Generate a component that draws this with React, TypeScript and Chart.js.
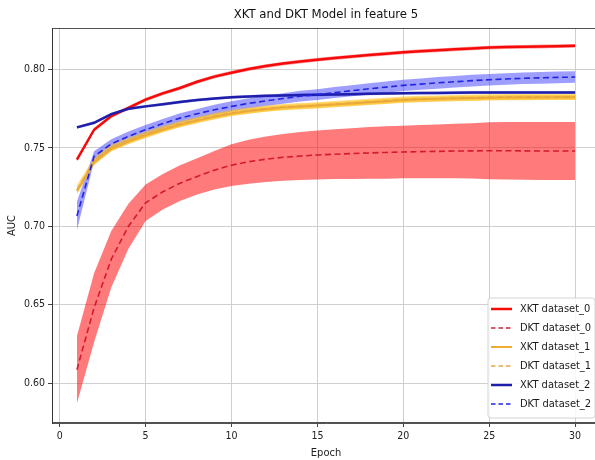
import React, { useEffect, useRef } from "react";
import { Chart, registerables } from "chart.js";

Chart.register(...registerables);

const TITLE = "XKT and DKT Model in feature 5";
const X_LABEL = "Epoch";
const Y_LABEL = "AUC";
const X_TICKS = [0, 5, 10, 15, 20, 25, 30];
const Y_TICKS = [0.6, 0.65, 0.7, 0.75, 0.8];

const EPOCHS = [1, 2, 3, 4, 5, 6, 7, 8, 9, 10, 11, 12, 13, 14, 15, 16, 17, 18, 19, 20, 21, 22, 23, 24, 25, 26, 27, 28, 29, 30];

const XKT0 = [0.7425, 0.7616, 0.7703, 0.7755, 0.7808, 0.7848, 0.7882, 0.7922, 0.7955, 0.798, 0.8003, 0.8022, 0.8038, 0.8051, 0.8063, 0.8073, 0.8083, 0.8092, 0.8101, 0.811, 0.8117, 0.8123, 0.8129, 0.8135, 0.814, 0.8143, 0.8145, 0.8147, 0.8149, 0.8151];
const XKT0_STD = [0.0012, 0.0012, 0.0012, 0.0012, 0.0012, 0.0012, 0.0012, 0.0012, 0.0012, 0.0012, 0.0012, 0.0012, 0.0012, 0.0012, 0.0012, 0.0012, 0.0012, 0.0012, 0.0012, 0.0012, 0.0012, 0.0012, 0.0012, 0.0012, 0.0012, 0.0012, 0.0012, 0.0012, 0.0012, 0.0012];
const DKT0 = [0.6085, 0.648, 0.679, 0.7, 0.715, 0.722, 0.7275, 0.7318, 0.7358, 0.739, 0.7412, 0.7428, 0.744, 0.7448, 0.7455, 0.746, 0.7464, 0.7468, 0.7471, 0.7474, 0.7476, 0.7478, 0.748, 0.7481, 0.7482, 0.7482, 0.7481, 0.748, 0.748, 0.748];
const DKT0_STD = [0.0215, 0.022, 0.018, 0.0143, 0.0116, 0.0113, 0.0114, 0.0116, 0.0123, 0.0133, 0.014, 0.0145, 0.0149, 0.0153, 0.0156, 0.0159, 0.0162, 0.0165, 0.0167, 0.0168, 0.017, 0.0172, 0.0174, 0.0176, 0.0182, 0.0183, 0.0184, 0.0185, 0.0185, 0.0185];

const XKT1 = [0.7225, 0.7408, 0.7494, 0.754, 0.758, 0.7616, 0.7648, 0.7675, 0.7699, 0.772, 0.7735, 0.7747, 0.7757, 0.7764, 0.777, 0.7777, 0.7784, 0.7791, 0.7798, 0.7805, 0.781, 0.7813, 0.7816, 0.7818, 0.782, 0.7821, 0.7822, 0.7822, 0.7823, 0.7823];
const XKT1_STD = [0.0015, 0.0015, 0.0015, 0.0015, 0.0015, 0.0015, 0.0015, 0.0015, 0.0015, 0.0015, 0.0015, 0.0015, 0.0015, 0.0015, 0.0015, 0.0015, 0.0015, 0.0015, 0.0015, 0.0015, 0.0015, 0.0015, 0.0015, 0.0015, 0.0015, 0.0015, 0.0015, 0.0015, 0.0015, 0.0015];
const DKT1 = [0.7233, 0.7415, 0.75, 0.7545, 0.7584, 0.762, 0.7652, 0.7678, 0.7702, 0.7723, 0.7738, 0.775, 0.776, 0.7766, 0.7772, 0.7779, 0.7786, 0.7793, 0.78, 0.7808, 0.7812, 0.7815, 0.7818, 0.782, 0.7823, 0.7824, 0.7824, 0.7825, 0.7825, 0.7825];
const DKT1_STD = [0.003, 0.0024, 0.0021, 0.002, 0.002, 0.002, 0.002, 0.002, 0.002, 0.002, 0.002, 0.002, 0.002, 0.002, 0.002, 0.002, 0.002, 0.002, 0.002, 0.002, 0.002, 0.002, 0.002, 0.002, 0.002, 0.002, 0.002, 0.002, 0.002, 0.002];

const XKT2 = [0.7631, 0.766, 0.7716, 0.775, 0.7765, 0.7778, 0.7793, 0.7805, 0.7815, 0.7823, 0.7828, 0.7832, 0.7835, 0.7837, 0.7839, 0.7841, 0.7843, 0.7845, 0.7847, 0.7849, 0.785, 0.7851, 0.7852, 0.7853, 0.7853, 0.7854, 0.7854, 0.7854, 0.7854, 0.7854];
const XKT2_STD = [0.0009, 0.0009, 0.0009, 0.0009, 0.0009, 0.0009, 0.0009, 0.0009, 0.0009, 0.0009, 0.0009, 0.0009, 0.0009, 0.0009, 0.0009, 0.0009, 0.0009, 0.0009, 0.0009, 0.0009, 0.0009, 0.0009, 0.0009, 0.0009, 0.0009, 0.0009, 0.0009, 0.0009, 0.0009, 0.0009];
const DKT2 = [0.7066, 0.7446, 0.7525, 0.7574, 0.7616, 0.7655, 0.769, 0.7718, 0.7743, 0.7765, 0.7784, 0.78, 0.7815, 0.783, 0.784, 0.7853, 0.7865, 0.7877, 0.7888, 0.7899, 0.7907, 0.7915, 0.7922, 0.7929, 0.7935, 0.794, 0.7944, 0.7947, 0.795, 0.7952];
const DKT2_STD = [0.009, 0.0032, 0.003, 0.003, 0.003, 0.003, 0.0031, 0.0031, 0.0032, 0.0032, 0.0033, 0.0033, 0.0034, 0.0034, 0.0035, 0.0035, 0.0035, 0.0036, 0.0036, 0.0036, 0.0036, 0.0037, 0.0037, 0.0037, 0.0037, 0.0037, 0.0037, 0.0037, 0.0037, 0.0037];

const FONT = "'DejaVu Sans Condensed', 'DejaVu Sans', sans-serif";

type Series = {
  label: string;
  mean: number[];
  std: number[];
  color: string;
  band: string;
  dashed: boolean;
  width: number;
};

const SERIES: Series[] = [
  { label: "XKT dataset_0", mean: XKT0, std: XKT0_STD, color: "rgb(245,10,10)", band: "rgba(255,0,0,0.35)", dashed: false, width: 2.5 },
  { label: "DKT dataset_0", mean: DKT0, std: DKT0_STD, color: "rgba(205,15,40,0.9)", band: "rgba(255,0,0,0.52)", dashed: true, width: 1.6 },
  { label: "XKT dataset_1", mean: XKT1, std: XKT1_STD, color: "rgb(238,172,50)", band: "rgba(255,185,20,0.5)", dashed: false, width: 2 },
  { label: "DKT dataset_1", mean: DKT1, std: DKT1_STD, color: "rgb(228,168,70)", band: "rgba(255,190,20,0.55)", dashed: true, width: 1.6 },
  { label: "XKT dataset_2", mean: XKT2, std: XKT2_STD, color: "rgb(30,30,170)", band: "rgba(40,40,200,0.35)", dashed: false, width: 2.5 },
  { label: "DKT dataset_2", mean: DKT2, std: DKT2_STD, color: "rgb(35,35,230)", band: "rgba(40,40,255,0.45)", dashed: true, width: 1.6 },
];

const DASH = [6, 3.5];

function buildDatasets() {
  const bands: any[] = [];
  const lines: any[] = [];
  SERIES.forEach((s) => {
    bands.push({
      label: "",
      data: EPOCHS.map((e, i) => ({ x: e, y: s.mean[i] + s.std[i] })),
      borderWidth: 0,
      pointRadius: 0,
      fill: false,
      tension: 0,
    });
    bands.push({
      label: "",
      data: EPOCHS.map((e, i) => ({ x: e, y: s.mean[i] - s.std[i] })),
      borderWidth: 0,
      pointRadius: 0,
      backgroundColor: s.band,
      fill: "-1",
      tension: 0,
    });
  });
  SERIES.forEach((s) => {
    lines.push({
      label: s.label,
      showInLegend: true,
      data: EPOCHS.map((e, i) => ({ x: e, y: s.mean[i] })),
      borderColor: s.color,
      borderWidth: s.width,
      borderDash: s.dashed ? DASH : [],
      pointRadius: 0,
      fill: false,
      tension: 0,
    });
  });
  // later datasets in the array are drawn first; put lines first so they draw on top
  return [...lines.reverse(), ...bands];
}

const framePlugin = {
  id: "frameAndLegend",
  afterDraw(chart: any) {
    const { ctx, chartArea } = chart;
    ctx.save();
    ctx.strokeStyle = "rgba(50,50,50,0.85)";
    ctx.lineWidth = 1;
    ctx.strokeRect(chartArea.left + 0.5, chartArea.top + 0.5, chartArea.right - chartArea.left - 1, chartArea.bottom - chartArea.top - 1);

    const items = chart.data.datasets.filter((d: any) => d.showInLegend).slice().reverse();
    const rowH = 19;
    const boxW = 107;
    const boxH = rowH * items.length + 6;
    const right = chartArea.right - 5;
    const bottom = chartArea.bottom - 5;
    const left = right - boxW;
    const top = bottom - boxH;
    ctx.fillStyle = "rgba(255,255,255,0.85)";
    ctx.strokeStyle = "#d4d4d4";
    ctx.lineWidth = 1;
    ctx.beginPath();
    const r = 3;
    ctx.moveTo(left + r, top);
    ctx.lineTo(right - r, top);
    ctx.quadraticCurveTo(right, top, right, top + r);
    ctx.lineTo(right, bottom - r);
    ctx.quadraticCurveTo(right, bottom, right - r, bottom);
    ctx.lineTo(left + r, bottom);
    ctx.quadraticCurveTo(left, bottom, left, bottom - r);
    ctx.lineTo(left, top + r);
    ctx.quadraticCurveTo(left, top, left + r, top);
    ctx.closePath();
    ctx.fill();
    ctx.stroke();

    ctx.font = `11px ${FONT}`;
    ctx.textBaseline = "middle";
    ctx.textAlign = "left";
    items.forEach((d: any, i: number) => {
      const cy = top + 11 + i * rowH;
      ctx.beginPath();
      ctx.strokeStyle = d.borderColor;
      ctx.lineWidth = d.borderWidth;
      ctx.setLineDash(d.borderDash && d.borderDash.length ? [4.5, 3] : []);
      ctx.moveTo(left + 3, cy);
      ctx.lineTo(left + 24, cy);
      ctx.stroke();
      ctx.setLineDash([]);
      ctx.fillStyle = "#1a1a1a";
      ctx.fillText(d.label, left + 32, cy + 0.5);
    });
    ctx.restore();
  },
};

export default function App() {
  const ref = useRef<HTMLCanvasElement | null>(null);
  useEffect(() => {
    document.body.style.margin = "0";
    document.body.style.overflow = "hidden";
    if (!ref.current) return;
    const chart = new Chart(ref.current, {
      type: "line",
      data: { datasets: buildDatasets() },
      options: {
        animation: false,
        responsive: false,
        maintainAspectRatio: false,
        layout: { padding: { top: 0, left: 0, right: 5, bottom: 0 } },
        plugins: {
          legend: { display: false },
          tooltip: { enabled: false },
          title: {
            display: true,
            text: TITLE,
            fullSize: false,
            color: "#111",
            font: { family: FONT, size: 13, weight: "normal", lineHeight: 1.2 },
            padding: { top: 7, bottom: 5.4 },
          },
          filler: { propagate: false },
        },
        scales: {
          x: {
            type: "linear",
            min: -0.45,
            max: 31.45,
            afterBuildTicks: (scale: any) => {
              scale.ticks = X_TICKS.map((v) => ({ value: v }));
            },
            afterFit: (scale: any) => {
              scale.height = 37;
            },
            ticks: {
              color: "#222",
              padding: 3,
              maxRotation: 0,
              font: { family: FONT, size: 10.5 },
              callback: (v: any) => String(v),
            },
            grid: { color: "#cfcfcf", lineWidth: 1, tickLength: 4, tickColor: "#444" },
            border: { display: true, color: "rgba(50,50,50,0.85)", width: 1 },
            title: { display: true, text: X_LABEL, color: "#222", font: { family: FONT, size: 11 }, padding: { top: 0, bottom: 0 } },
          },
          y: {
            type: "linear",
            min: 0.5745,
            max: 0.8265,
            afterBuildTicks: (scale: any) => {
              scale.ticks = Y_TICKS.map((v) => ({ value: v }));
            },
            afterFit: (scale: any) => {
              scale.width = 52;
            },
            ticks: {
              color: "#222",
              padding: 3,
              font: { family: FONT, size: 10.5 },
              callback: (v: any) => Number(v).toFixed(2),
            },
            grid: { color: "#cfcfcf", lineWidth: 1, tickLength: 4, tickColor: "#444" },
            border: { display: true, color: "rgba(50,50,50,0.85)", width: 1 },
            title: { display: true, text: Y_LABEL, color: "#222", font: { family: FONT, size: 11 }, padding: { top: 6, bottom: 0 } },
          },
        },
      },
      plugins: [framePlugin],
    } as any);
    return () => chart.destroy();
  }, []);

  return (
    <div style={{ position: "fixed", left: 0, top: 0, width: 595, height: 460, overflow: "hidden", background: "#fff" }}>
      <canvas ref={ref} width={605} height={460} style={{ display: "block", width: 605, height: 460 }} />
    </div>
  );
}
